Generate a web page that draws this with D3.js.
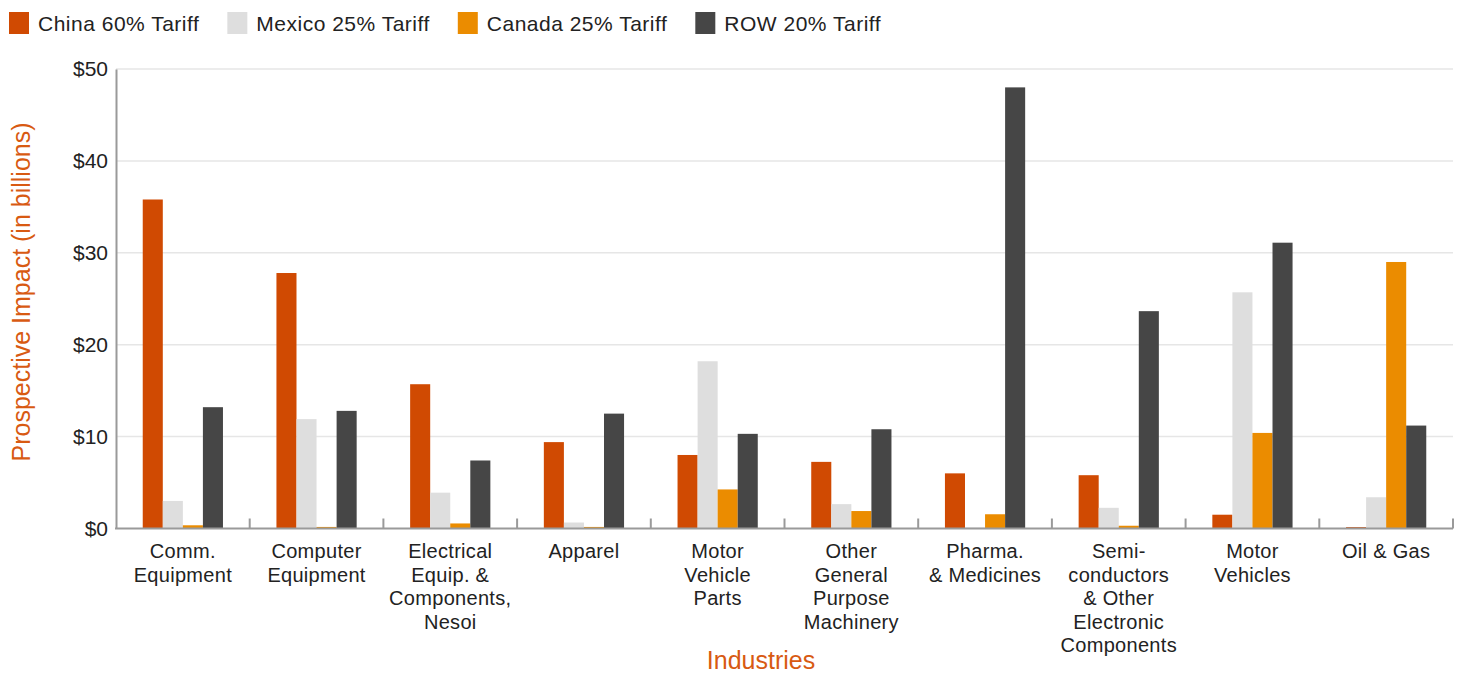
<!DOCTYPE html>
<html>
<head>
<meta charset="utf-8">
<script src="https://cdn.jsdelivr.net/npm/d3@7"></script>
<style>
  html, body { margin: 0; padding: 0; background: #fff; }
  svg { display: block; font-family: "Liberation Sans", Arial, Helvetica, sans-serif; }
</style>
</head>
<body>
<svg id="chart" width="1461" height="673"></svg>
<script>
// ---- data ----
const categories = [
  "Comm. Equipment", "Computer Equipment", "Electrical Equip. & Components, Nesoi",
  "Apparel", "Motor Vehicle Parts", "Other General Purpose Machinery",
  "Pharma. & Medicines", "Semi-conductors & Other Electronic Components",
  "Motor Vehicles", "Oil & Gas"
];
const categoryLabelLines = [
  ["Comm.", "Equipment"],
  ["Computer", "Equipment"],
  ["Electrical", "Equip. &", "Components,", "Nesoi"],
  ["Apparel"],
  ["Motor", "Vehicle", "Parts"],
  ["Other", "General", "Purpose", "Machinery"],
  ["Pharma.", "& Medicines"],
  ["Semi-", "conductors", "& Other", "Electronic", "Components"],
  ["Motor", "Vehicles"],
  ["Oil & Gas"]
];
const seriesNames = ["China 60% Tariff", "Mexico 25% Tariff", "Canada 25% Tariff", "ROW 20% Tariff"];
const china  = [35.8, 27.8, 15.7, 9.4, 8.0, 7.25, 6.0, 5.8, 1.5, 0.15];
const mexico = [3.0, 11.9, 3.9, 0.65, 18.2, 2.65, 0.1, 2.25, 25.7, 3.4];
const canada = [0.35, 0.17, 0.55, 0.17, 4.25, 1.9, 1.55, 0.3, 10.4, 29.0];
const row    = [13.2, 12.8, 7.4, 12.5, 10.3, 10.8, 48.0, 23.65, 31.1, 11.2];
const yTickValues = [0, 10, 20, 30, 40, 50];
const yTickLabels = ["$0", "$10", "$20", "$30", "$40", "$50"];
const yTitle = "Prospective Impact (in billions)";
const xTitle = "Industries";

// ---- styles ----
const colors = ["#D04A02", "#DEDEDE", "#EB8C00", "#464646"];
const titleColor = "#D85A12";
const textColor = "#222";

const seriesValues = [china, mexico, canada, row];
const table = categories.map((c, i) => ({
  category: c,
  values: seriesNames.map((s, j) => ({ series: s, idx: j, value: seriesValues[j][i] }))
}));

const svg = d3.select("#chart");
const margin = { left: 116, right: 8, top: 69, bottom: 145 };
const W = 1461, H = 673;
const plotRight = W - margin.right;
const plotBottom = 528.5;

const x0 = d3.scaleBand().domain(categories).range([margin.left, plotRight]).padding(0);
const groupPad = x0.bandwidth() * 0.2;
const x1 = d3.scaleBand().domain(seriesNames).range([groupPad, x0.bandwidth() - groupPad]).padding(0);
const y = d3.scaleLinear().domain([0, 50]).range([plotBottom, margin.top]);

// gridlines
svg.append("g")
  .selectAll("line")
  .data(yTickValues.filter(v => v > 0))
  .join("line")
  .attr("x1", margin.left).attr("x2", plotRight)
  .attr("y1", d => y(d)).attr("y2", d => y(d))
  .attr("stroke", "#e6e6e6").attr("stroke-width", 1.5);

// bars
const groups = svg.append("g")
  .selectAll("g")
  .data(table)
  .join("g")
  .attr("transform", d => `translate(${x0(d.category)},0)`);
groups.selectAll("rect")
  .data(d => d.values)
  .join("rect")
  .attr("x", d => x1(d.series))
  .attr("width", x1.bandwidth())
  .attr("y", d => y(d.value))
  .attr("height", d => y(0) - y(d.value))
  .attr("fill", d => colors[d.idx]);

// y axis
const yAxis = d3.axisLeft(y)
  .tickValues(yTickValues)
  .tickFormat((d, i) => yTickLabels[i])
  .tickSize(0)
  .tickPadding(8);
const gy = svg.append("g").attr("transform", `translate(${margin.left},0)`).call(yAxis);
gy.select(".domain").attr("stroke", "#9a9a9a").attr("stroke-width", 2);
gy.selectAll("text").attr("font-size", 21).attr("fill", textColor)
  .attr("font-family", "'Liberation Sans', Arial, sans-serif");

// x axis baseline + boundary ticks
const gx = svg.append("g");
gx.append("line")
  .attr("x1", margin.left - 1).attr("x2", plotRight)
  .attr("y1", plotBottom).attr("y2", plotBottom)
  .attr("stroke", "#9a9a9a").attr("stroke-width", 2);
const boundaries = categories.map(c => x0(c)).concat([x0(categories[categories.length - 1]) + x0.bandwidth()]);
gx.selectAll("line.tick")
  .data(boundaries.slice(1))
  .join("line")
  .attr("class", "tick")
  .attr("x1", d => d).attr("x2", d => d)
  .attr("y1", plotBottom).attr("y2", plotBottom - 10)
  .attr("stroke", "#9a9a9a").attr("stroke-width", 2);

// x labels
const lineH = 23.5;
const xl = svg.append("g");
categories.forEach((c, i) => {
  const t = xl.append("text")
    .attr("x", x0(c) + x0.bandwidth() / 2)
    .attr("y", 558)
    .attr("text-anchor", "middle")
    .attr("font-size", 20)
    .attr("letter-spacing", 0.3)
    .attr("fill", textColor);
  categoryLabelLines[i].forEach((ln, k) => {
    t.append("tspan").attr("x", x0(c) + x0.bandwidth() / 2).attr("y", 558 + k * lineH).text(ln);
  });
});

// axis titles
svg.append("text")
  .attr("transform", `translate(30,292) rotate(-90)`)
  .attr("text-anchor", "middle")
  .attr("font-size", 25)
  .attr("fill", titleColor)
  .text(yTitle);
svg.append("text")
  .attr("x", 761).attr("y", 669)
  .attr("text-anchor", "middle")
  .attr("font-size", 25)
  .attr("fill", titleColor)
  .text(xTitle);

// legend
const lg = svg.append("g");
let lx = 9;
seriesNames.forEach((s, j) => {
  lg.append("rect").attr("x", lx).attr("y", 12).attr("width", 20).attr("height", 22).attr("fill", colors[j]);
  const t = lg.append("text").attr("x", lx + 29).attr("y", 31)
    .attr("font-size", 21).attr("letter-spacing", 0.5).attr("fill", textColor).text(s);
  lx = lx + 29 + t.node().getComputedTextLength() + 28;
});
</script>
</body>
</html>
